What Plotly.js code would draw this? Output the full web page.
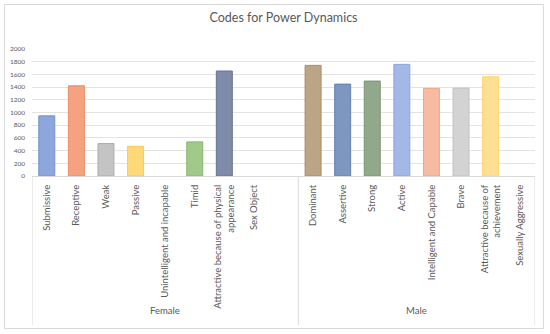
<!DOCTYPE html>
<html>
<head>
<meta charset="utf-8">
<script src="https://cdn.plot.ly/plotly-3.0.1.min.js"></script>
<style>html,body{margin:0;padding:0;background:#fff;}#chart{width:550px;height:334px;}</style>
</head>
<body>
<div id="chart"></div>
<script>
// Data
const categories = [
  "Submissive", "Receptive", "Weak", "Passive", "Unintelligent and incapable", "Timid",
  "Attractive because of physical<br>appearance", "Sex Object", "\u00a0",
  "Dominant", "Assertive", "Strong", "Active", "Intelligent and Capable", "Brave",
  "Attractive because of<br>achievement", "Sexually Aggressive"
];
const groups = ["Female", "Male"];
const groupSizes = [9, 8];
const values = [947, 1421, 511, 468, 0, 537, 1653, 0, null,
                1742, 1447, 1495, 1758, 1379, 1384, 1563, 0];
const fillColors = ["#8DA6DC", "#F4A27F", "#C4C4C4", "#FFD878", "#FFFFFF", "#A0C98A", "#7F8BA8", "#FFFFFF", "#FFFFFF",
                    "#BBA584", "#7E97C0", "#92A88A", "#A3B8E6", "#F7BBA1", "#D3D3D3", "#FFDF91", "#FFFFFF"];
const lineColors = ["#7391CF", "#EE8C63", "#ADADAD", "#FFC94A", "#FFFFFF", "#86B86B", "#667395", "#FFFFFF", "#FFFFFF",
                    "#A68D65", "#6582B0", "#7A9470", "#8BA5DE", "#F3A584", "#C2C2C2", "#FFD46E", "#FFFFFF"];
const yTicks = [0, 200, 400, 600, 800, 1000, 1200, 1400, 1600, 1800, 2000];

const FONT = "Lato, 'Open Sans', sans-serif";
const GRAY = "#595959";

const trace = {
  type: "bar",
  x: categories,
  y: values,
  width: 0.54,
  marker: {
    color: fillColors,
    line: { color: lineColors, width: values.map(v => (v ? 1 : 0)) }
  },
  hoverinfo: "x+y"
};

// group layout derived from group sizes
const shapes = [];
const annotations = [];
const plotTop = 49, plotBottom = 176, H = 334;
const plotH = plotBottom - plotTop;
const toPaperY = py => (plotBottom - py) / plotH;
let start = 0;
const bounds = [-0.5];
groupSizes.forEach((n, i) => {
  const end = start + n;
  bounds.push(end - 0.5);
  annotations.push({
    x: (start + end - 1) / 2, xref: "x",
    y: toPaperY(318), yref: "paper",
    text: groups[i], showarrow: false,
    font: { family: FONT, size: 9.5, color: GRAY }
  });
  start = end;
});
bounds.forEach(b => {
  shapes.push({
    type: "line", xref: "x", yref: "paper",
    x0: b, x1: b, y0: 0, y1: toPaperY(325),
    line: { color: "#D9D9D9", width: 1 }
  });
});
// outer chart border
shapes.push({
  type: "rect", xref: "paper", yref: "paper",
  x0: (4.5 - 32) / 503, x1: (543.5 - 32) / 503,
  y0: toPaperY(328.5), y1: toPaperY(4.5),
  line: { color: "#D9D9D9", width: 1 }, fillcolor: "rgba(0,0,0,0)"
});

const layout = {
  width: 550, height: 334,
  margin: { l: 32, r: 15, t: plotTop, b: H - plotBottom, pad: 0 },
  paper_bgcolor: "#FFFFFF",
  plot_bgcolor: "#FFFFFF",
  showlegend: false,
  title: {
    text: "Codes for Power Dynamics",
    x: 0.5, xref: "paper", xanchor: "center",
    y: 1 - 18 / H, yref: "container", yanchor: "middle",
    font: { family: FONT, size: 12.5, color: GRAY }
  },
  xaxis: {
    type: "category",
    categoryorder: "array",
    categoryarray: categories,
    range: [-0.5, categories.length - 0.5],
    tickangle: -90,
    tickfont: { family: FONT, size: 9.5, color: GRAY },
    ticklabelstandoff: 4,
    showline: true, linecolor: "#D9D9D9", linewidth: 1,
    ticks: "", showgrid: false, zeroline: false,
    fixedrange: true
  },
  yaxis: {
    range: [0, 2000],
    tickvals: yTicks,
    ticktext: yTicks.map(String),
    tickfont: { family: FONT, size: 6.5, color: GRAY },
    ticklabelstandoff: 6,
    showgrid: true, gridcolor: "#E3E3E3", gridwidth: 1,
    zeroline: false, showline: false, ticks: "",
    fixedrange: true
  },
  shapes: shapes,
  annotations: annotations,
  bargap: 0.46
};

Plotly.newPlot("chart", [trace], layout, { displayModeBar: false, staticPlot: true });
</script>
</body>
</html>
